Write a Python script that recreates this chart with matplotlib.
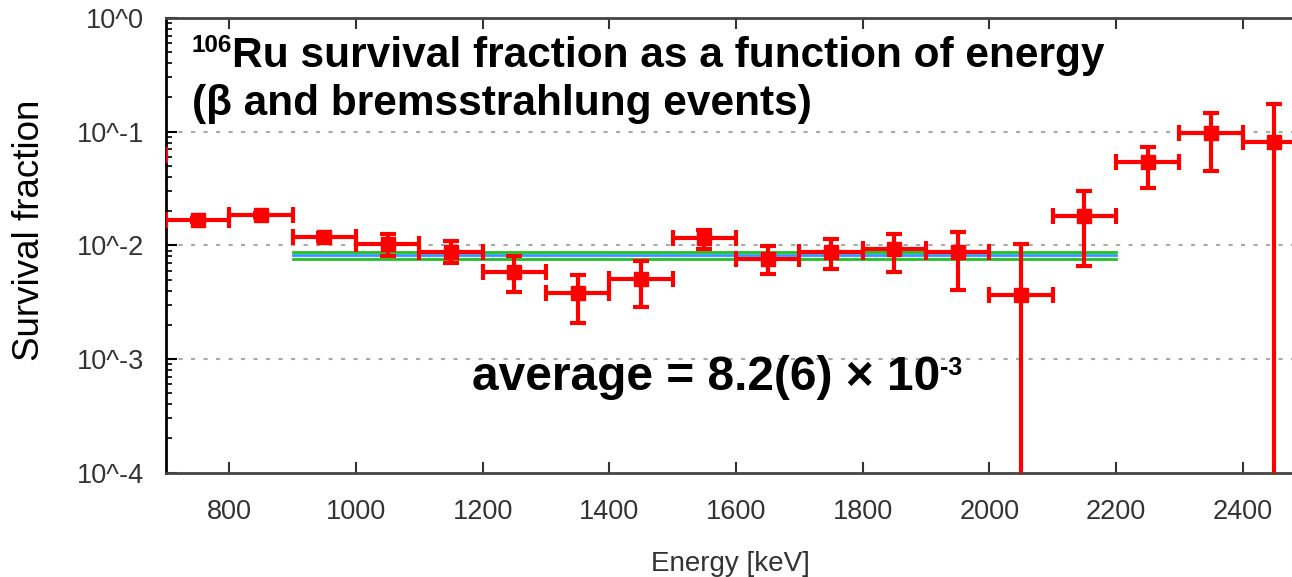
import matplotlib
matplotlib.use("Agg")
import matplotlib.pyplot as plt
import numpy as np
from matplotlib.ticker import FixedLocator, FixedFormatter, LogLocator, NullFormatter

plt.rcParams['font.family'] = ['Liberation Sans', 'DejaVu Sans']

# bin centres (keV), half width 50 keV
energy = [650, 750, 850, 950, 1050, 1150, 1250, 1350, 1450, 1550,
          1650, 1750, 1850, 1950, 2050, 2150, 2250, 2350, 2450]
survival = [0.0624, 0.0167, 0.0185, 0.01186, 0.01028, 0.00875, 0.00583, 0.00381, 0.00506, 0.01161,
            0.00760, 0.00875, 0.00929, 0.00875, 0.00366, 0.01815, 0.0542, 0.0974, 0.0811]
err_low = [0.0600, 0.0160, 0.0178, 0.0110, 0.0081, 0.0070, 0.00389, 0.00208, 0.00287, 0.00930,
           0.00560, 0.00620, 0.00583, 0.00405, 5e-5, 0.00659, 0.0320, 0.0451, 5e-5]
err_high = [0.0650, 0.0175, 0.0193, 0.0128, 0.0126, 0.01094, 0.00807, 0.00549, 0.00729, 0.01366,
            0.00988, 0.01138, 0.01259, 0.01312, 0.01029, 0.0301, 0.0733, 0.146, 0.1753]
half_width = 50

# fitted average and its +-1 sigma band
avg_range = [900, 2200]
avg = 8.2e-3
avg_lo = 7.6e-3
avg_hi = 8.8e-3

ytick_vals = [1e-4, 1e-3, 1e-2, 1e-1, 1e0]
ytick_labels = ["10^-4", "10^-3", "10^-2", "10^-1", "10^0"]
xtick_vals = [800, 1000, 1200, 1400, 1600, 1800, 2000, 2200, 2400]

fig = plt.figure(figsize=(12.92, 5.77), dpi=100)
ax = fig.add_axes([166 / 1292, 1 - 472.7 / 577, 1140 / 1292, 454.7 / 577])

y = np.array(survival)
yerr = [y - np.array(err_low), np.array(err_high) - y]

# horizontal grid at decades
for v in ytick_vals[1:-1]:
    ax.axhline(v, color='#aaaaaa', lw=1.5, ls=(0, (2, 4)), zorder=1)

ax.plot(avg_range, [avg_hi, avg_hi], color='#22c022', lw=2, zorder=2)
ax.plot(avg_range, [avg, avg], color='#3399ff', lw=2, zorder=2)
ax.plot(avg_range, [avg_lo, avg_lo], color='#22c022', lw=2, zorder=2)

ax.errorbar(energy, y, xerr=half_width, yerr=yerr, fmt='s', color='#ff0000',
            ms=10, elinewidth=3, capsize=5.5, capthick=3, zorder=3)

ax.set_yscale('log')
ax.set_xlim(700, 2500)
ax.set_ylim(1e-4, 1)

ax.yaxis.set_major_locator(FixedLocator(ytick_vals))
ax.yaxis.set_major_formatter(FixedFormatter(ytick_labels))
ax.yaxis.set_minor_locator(LogLocator(base=10, subs=np.arange(2, 10)))
ax.yaxis.set_minor_formatter(NullFormatter())
ax.xaxis.set_major_locator(FixedLocator(xtick_vals))

ax.tick_params(axis='x', which='major', direction='in', length=8, width=1.5,
               top=True, labelsize=19.5, labelcolor='#333333', pad=19, color='#333333')
ax.tick_params(axis='y', which='major', direction='in', length=8, width=1.5,
               labelsize=19.5, labelcolor='#333333', pad=16)
ax.tick_params(axis='y', which='minor', direction='in', length=4, width=1.2)

for s in ['left', 'bottom', 'top', 'right']:
    ax.spines[s].set_linewidth(2)
ax.spines['bottom'].set_color('#444444')
ax.spines['top'].set_color('#444444')

ax.set_xlabel("Energy [keV]", fontsize=20, color='#333333')
ax.xaxis.set_label_coords(0.495, -0.172)
ax.set_ylabel("Survival fraction", fontsize=26.5)
ax.yaxis.set_label_coords(-0.104, 0.532)

# title block, with the mass number as a hand-placed superscript
t_mass = ax.text(0.0228, 0.925, "106", transform=ax.transAxes,
                 fontsize=17.5, fontweight='bold', va='baseline')
ax.annotate("Ru survival fraction as a function of energy", xy=(1, 0.892),
            xycoords=(t_mass, 'axes fraction'), fontsize=30.5, fontweight='bold',
            va='baseline', ha='left')
ax.text(0.0228, 0.787, "(\u03b2 and bremsstrahlung events)", transform=ax.transAxes,
        fontsize=30.5, fontweight='bold', va='baseline')

t_avg = ax.text(0.2684, 0.182, "average = 8.2(6) \u00d7 10", transform=ax.transAxes,
                fontsize=34.5, fontweight='bold', va='baseline')
ax.annotate("-3", xy=(1, 0.215), xycoords=(t_avg, 'axes fraction'),
            fontsize=18, fontweight='bold', va='baseline', ha='left')

fig.savefig("out.png", dpi=100)
plt.close(fig)
